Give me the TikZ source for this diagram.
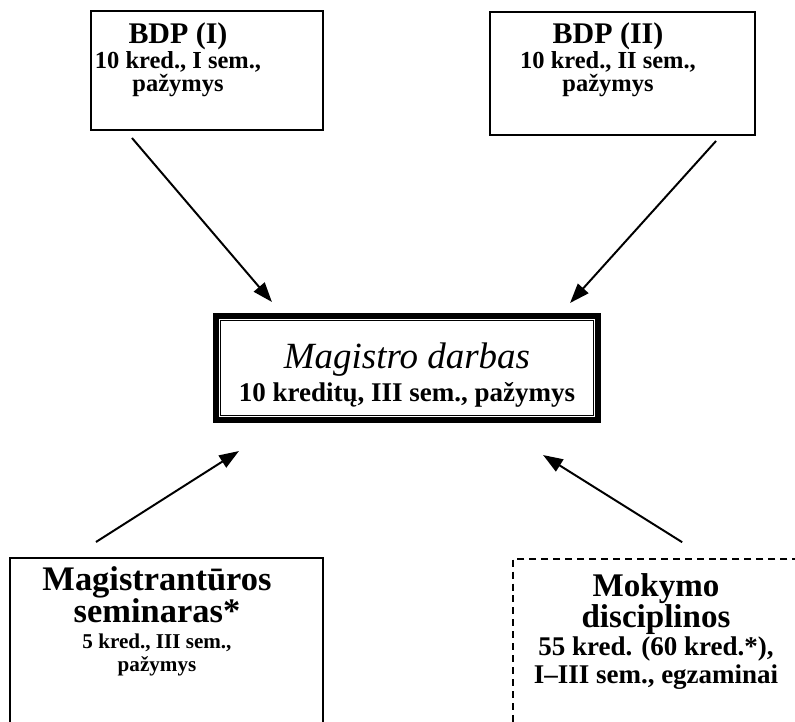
\documentclass[tikz,border=0pt]{standalone}
\usepackage{fontspec}
\setmainfont{Liberation Serif}
\usetikzlibrary{arrows.meta, positioning, calc}
\lineskiplimit=-\maxdimen

\tikzset{
  kbox/.style={draw, line width=1.4pt, inner sep=0pt},
  ktext/.style={align=center, inner sep=0pt, anchor=north},
  karrow/.style={-{Triangle[length=14pt,width=10pt]}, line width=1.4pt},
}

\begin{document}
\begin{tikzpicture}[x=0.025cm, y=-0.025cm]
\useasboundingbox (0,0) rectangle (795,722);

% BDP (I)
\node[kbox, minimum width=5.8cm, minimum height=2.975cm] (bdpI) at (207,70.5) {};
\node[ktext, font=\fontsize{17.4}{16.4}\selectfont\bfseries] (bdpItxt) at (178,22)
  {{\fontsize{21.3}{16.4}\selectfont BDP (I)}\\[1.6pt]10 kred., I sem.,\\pažymys};
% BDP (II)
\node[kbox, minimum width=6.625cm, minimum height=3.075cm] (bdpII) at (622.5,73.5) {};
\node[ktext, font=\fontsize{17.4}{16.4}\selectfont\bfseries] (bdpIItxt) at (608,22)
  {{\fontsize{21.3}{16.4}\selectfont BDP (II)}\\[1.6pt]10 kred., II sem.,\\pažymys};

% Magistro darbas
\node[draw, line width=4.3pt, inner sep=0pt, minimum width=9.55cm, minimum height=2.6cm] (magistras) at (407,368) {};
\draw[line width=1.1pt] ([shift={(7.5,7.5)}]magistras.north west) rectangle ([shift={(-7.5,-7.5)}]magistras.south east);
\node[ktext, font=\fontsize{19.2}{22.8}\selectfont\bfseries] (magistrastxt) at (407,343)
  {{\fontsize{26.3}{22.8}\selectfont\mdseries\itshape Magistro darbas}\\10 kreditų, III sem., pažymys};

% Magistranturos seminaras
\node[kbox, minimum width=7.825cm, minimum height=5cm] (seminaras) at (166.5,658) {};
\node[ktext, font=\fontsize{15}{15.6}\selectfont\bfseries] (seminarastxt) at (157,566)
  {{\fontsize{24.5}{15.6}\selectfont Magistrantūros}\\[7.6pt]{\fontsize{24.5}{15.6}\selectfont seminaras*}\\[2.6pt]5 kred., III sem.,\\[0.6pt]pažymys};

% Mokymo disciplinos
\node[draw, dashed, dash pattern=on 5pt off 3.5pt, line width=1.1pt, inner sep=0pt, minimum width=7.5cm, minimum height=5cm] (disciplinos) at (663,659) {};
\node[ktext, font=\fontsize{19.2}{20}\selectfont\bfseries] (disciplinostxt) at (656,573)
  {{\fontsize{23.5}{20}\selectfont Mokymo}\\[2pt]{\fontsize{23.5}{20}\selectfont disciplinos}\\55 kred. (60 kred.*),\\I--III sem., egzaminai};

% rodykles
\draw[karrow] ([shift={(42,7)}]bdpI.south west) -- ([shift={(59,-11)}]magistras.north west);
\draw[karrow] ([shift={(-40,5)}]bdpII.south east) -- ([shift={(-31,-10)}]magistras.north east);
\draw[karrow] ([shift={(87,-15)}]seminaras.north west) -- ([shift={(26,28)}]magistras.south west);
\draw[karrow] ([shift={(170,-16)}]disciplinos.north west) -- ([shift={(-58,32)}]magistras.south east);
\end{tikzpicture}
\end{document}
